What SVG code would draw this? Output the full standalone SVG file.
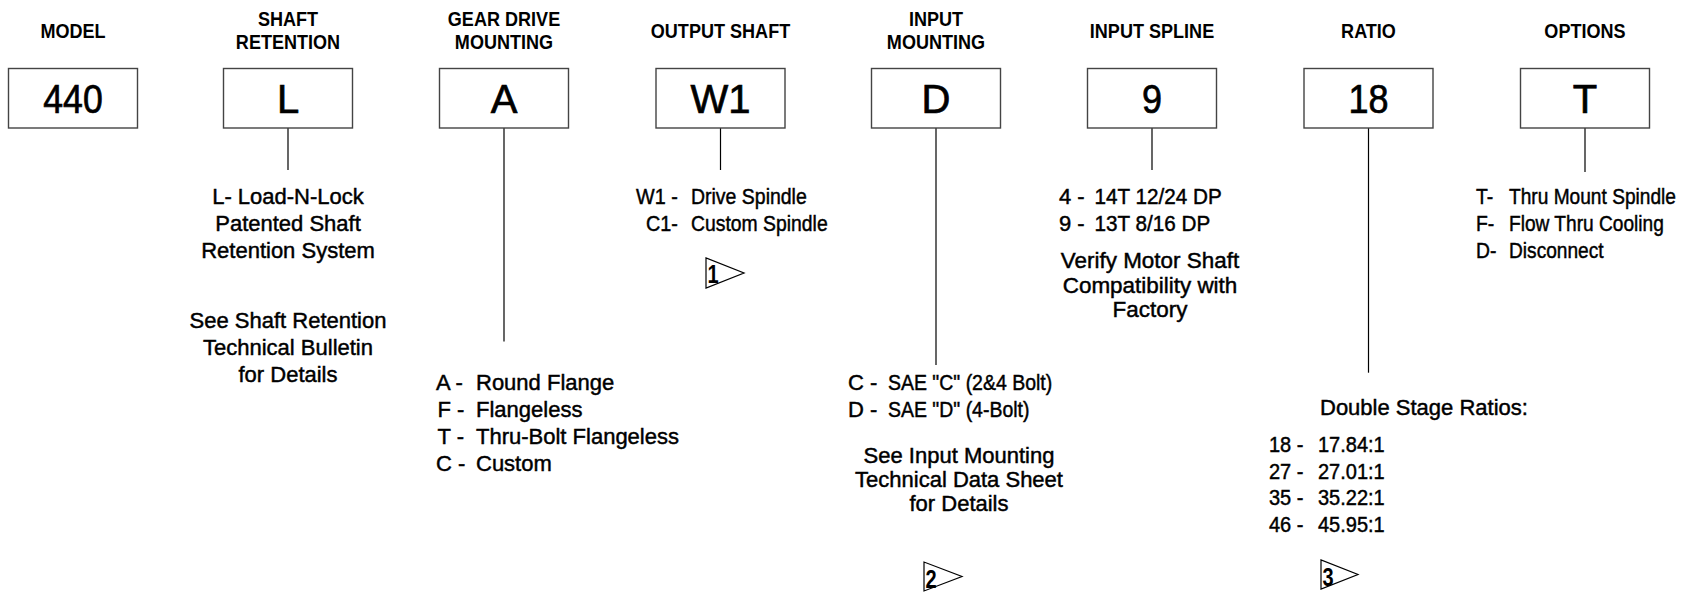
<svg xmlns="http://www.w3.org/2000/svg" width="1684" height="592" viewBox="0 0 1684 592">
<style>
.hd{font-family:"Liberation Sans",Arial,sans-serif;font-weight:bold;font-size:21px;fill:#000;text-anchor:middle}
.bx{fill:#fff;stroke:#444;stroke-width:1.4}
.bt{font-family:"Liberation Sans",Arial,sans-serif;font-size:40px;fill:#000;stroke:#000;stroke-width:0.7;text-anchor:middle}
.t{font-family:"Liberation Sans",Arial,sans-serif;font-size:22px;fill:#000;stroke:#000;stroke-width:0.45}
.c{text-anchor:middle}
.ln{stroke:#000;stroke-width:1.2;fill:none}
.tri{fill:#fff;stroke:#000;stroke-width:1.2}
.tn{font-family:"Liberation Sans",Arial,sans-serif;font-weight:bold;font-size:25px;fill:#000}
</style>
<rect width="1684" height="592" fill="#fff"/>
<g id="connectors">
<line class="ln" x1="288" y1="128" x2="288" y2="170"/>
<line class="ln" x1="504" y1="128" x2="504" y2="341.5"/>
<line class="ln" x1="720.5" y1="128" x2="720.5" y2="170"/>
<line class="ln" x1="936" y1="128" x2="936" y2="365"/>
<line class="ln" x1="1152" y1="128" x2="1152" y2="170"/>
<line class="ln" x1="1368.5" y1="128" x2="1368.5" y2="372.7"/>
<line class="ln" x1="1585" y1="128" x2="1585" y2="172"/>
</g>
<g id="model">
<text class="hd" transform="translate(73,38) scale(0.86,1)">MODEL</text>
<rect class="bx" x="8.5" y="68.5" width="129" height="59.5"/>
<text class="bt" transform="translate(73,113.3) scale(0.89,1)">440</text>
</g>
<g id="shaft-retention">
<text class="hd" transform="translate(288,26) scale(0.86,1)">SHAFT</text>
<text class="hd" transform="translate(288,48.5) scale(0.86,1)">RETENTION</text>
<rect class="bx" x="223.5" y="68.5" width="129" height="59.5"/>
<text class="bt" x="288" y="113.3">L</text>
<text class="t c" x="288" y="203.5">L- Load-N-Lock</text>
<text class="t c" x="288" y="230.5">Patented Shaft</text>
<text class="t c" x="288" y="257.5">Retention System</text>
<text class="t c" x="288" y="328">See Shaft Retention</text>
<text class="t c" x="288" y="355">Technical Bulletin</text>
<text class="t c" x="288" y="382">for Details</text>
</g>
<g id="gear-drive-mounting">
<text class="hd" transform="translate(504,26) scale(0.86,1)">GEAR DRIVE</text>
<text class="hd" transform="translate(504,48.5) scale(0.86,1)">MOUNTING</text>
<rect class="bx" x="439.5" y="68.5" width="129" height="59.5"/>
<text class="bt" x="504" y="113.3">A</text>
<text class="t" x="436" y="390">A -</text><text class="t" x="476" y="390">Round Flange</text>
<text class="t" x="437.5" y="417">F -</text><text class="t" x="476" y="417">Flangeless</text>
<text class="t" x="437.5" y="444">T -</text><text class="t" x="476" y="444">Thru-Bolt Flangeless</text>
<text class="t" x="436" y="471">C -</text><text class="t" x="476" y="471">Custom</text>
</g>
<g id="output-shaft">
<text class="hd" transform="translate(720.5,38) scale(0.86,1)">OUTPUT SHAFT</text>
<rect class="bx" x="656" y="68.5" width="129" height="59.5"/>
<text class="bt" x="720.5" y="113.3">W1</text>
<text class="t" transform="translate(636,203.5) scale(0.9,1)">W1 -</text><text class="t" transform="translate(691,203.5) scale(0.885,1)">Drive Spindle</text>
<text class="t" transform="translate(646,231) scale(0.9,1)">C1-</text><text class="t" transform="translate(691,231) scale(0.88,1)">Custom Spindle</text>
<path class="tri" d="M706,258 L706,288 L744,273 Z"/>
<text class="tn" transform="translate(707.5,282.5) scale(0.8,1)">1</text>
</g>
<g id="input-mounting">
<text class="hd" transform="translate(936,26) scale(0.86,1)">INPUT</text>
<text class="hd" transform="translate(936,48.5) scale(0.86,1)">MOUNTING</text>
<rect class="bx" x="871.5" y="68.5" width="129" height="59.5"/>
<text class="bt" x="936" y="113.3">D</text>
<text class="t" x="848" y="390">C -</text><text class="t" transform="translate(888,390) scale(0.885,1)">SAE "C" (2&amp;4 Bolt)</text>
<text class="t" x="848" y="417">D -</text><text class="t" transform="translate(888,417) scale(0.885,1)">SAE "D" (4-Bolt)</text>
<text class="t c" x="959" y="463">See Input Mounting</text>
<text class="t c" x="959" y="487">Technical Data Sheet</text>
<text class="t c" x="959" y="510.5">for Details</text>
<path class="tri" d="M924,562 L924,591 L962,576.5 Z"/>
<text class="tn" transform="translate(925.5,588) scale(0.8,1)">2</text>
</g>
<g id="input-spline">
<text class="hd" transform="translate(1152,38) scale(0.86,1)">INPUT SPLINE</text>
<rect class="bx" x="1087.5" y="68.5" width="129" height="59.5"/>
<text class="bt" transform="translate(1152,113.3) scale(0.9,1)">9</text>
<text class="t" x="1059" y="203.5">4 -</text><text class="t" transform="translate(1094.5,203.5) scale(0.94,1)">14T 12/24 DP</text>
<text class="t" x="1059" y="230.5">9 -</text><text class="t" transform="translate(1094.5,230.5) scale(0.94,1)">13T 8/16 DP</text>
<text class="t c" transform="translate(1150,268) scale(1.02,1)">Verify Motor Shaft</text>
<text class="t c" transform="translate(1150,292.5) scale(1.02,1)">Compatibility with</text>
<text class="t c" transform="translate(1150,317) scale(1.02,1)">Factory</text>
</g>
<g id="ratio">
<text class="hd" transform="translate(1368.5,38) scale(0.86,1)">RATIO</text>
<rect class="bx" x="1304" y="68.5" width="129" height="59.5"/>
<text class="bt" transform="translate(1368.5,113.3) scale(0.9,1)">18</text>
<text class="t" x="1320" y="414.5">Double Stage Ratios:</text>
<text class="t" transform="translate(1269,451.5) scale(0.91,1)">18 -</text><text class="t" transform="translate(1318,451.5) scale(0.91,1)">17.84:1</text>
<text class="t" transform="translate(1269,478.5) scale(0.91,1)">27 -</text><text class="t" transform="translate(1318,478.5) scale(0.91,1)">27.01:1</text>
<text class="t" transform="translate(1269,505) scale(0.91,1)">35 -</text><text class="t" transform="translate(1318,505) scale(0.91,1)">35.22:1</text>
<text class="t" transform="translate(1269,531.5) scale(0.91,1)">46 -</text><text class="t" transform="translate(1318,531.5) scale(0.91,1)">45.95:1</text>
<path class="tri" d="M1321,560 L1321,589 L1358,574.5 Z"/>
<text class="tn" transform="translate(1322.5,586) scale(0.8,1)">3</text>
</g>
<g id="options">
<text class="hd" transform="translate(1585,38) scale(0.86,1)">OPTIONS</text>
<rect class="bx" x="1520.5" y="68.5" width="129" height="59.5"/>
<text class="bt" x="1585" y="113.3">T</text>
<text class="t" transform="translate(1476,203.5) scale(0.88,1)">T-</text><text class="t" transform="translate(1509,203.5) scale(0.87,1)">Thru Mount Spindle</text>
<text class="t" transform="translate(1476,231) scale(0.88,1)">F-</text><text class="t" transform="translate(1509,231) scale(0.87,1)">Flow Thru Cooling</text>
<text class="t" transform="translate(1476,258) scale(0.88,1)">D-</text><text class="t" transform="translate(1509,258) scale(0.87,1)">Disconnect</text>
</g>
</svg>
